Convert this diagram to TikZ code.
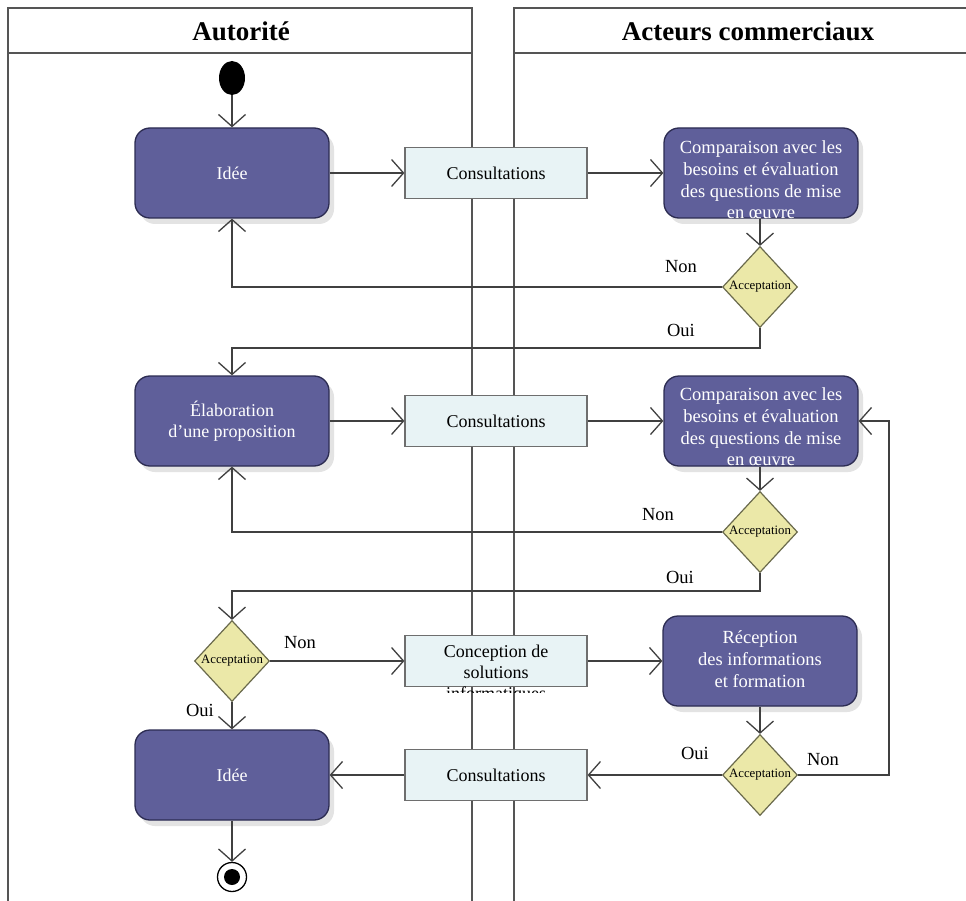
\documentclass[tikz,border=0pt]{standalone}
\usepackage{fontspec}
\setmainfont{Liberation Serif}
\usetikzlibrary{arrows.meta,shapes.geometric,shadows}
\definecolor{actfill}{HTML}{5F5F9A}
\definecolor{actdraw}{HTML}{2C2C52}
\definecolor{consfill}{HTML}{E8F3F5}
\definecolor{consdraw}{HTML}{6E6E6E}
\definecolor{decfill}{HTML}{EBE8A8}
\definecolor{decdraw}{HTML}{6A6A4C}
\definecolor{lanecol}{HTML}{555555}
\definecolor{linecol}{HTML}{404040}
\begin{document}
\begin{tikzpicture}[x=1pt,y=-1pt,
  activity/.style={draw=actdraw,line width=1.3pt,fill=actfill,rounded corners=15pt,
    minimum width=194pt,minimum height=90pt,inner sep=0pt,text=white,align=center,
    font=\fontsize{18}{21.5}\selectfont,
    drop shadow={opacity=0.22,shadow xshift=5pt,shadow yshift=-6pt}},
  acttext/.style={text=white,align=center,inner sep=0pt,font=\fontsize{18.5}{21.7}\selectfont},
  cons/.style={draw=consdraw,line width=1.2pt,fill=consfill,minimum width=182pt,
    minimum height=51pt,inner sep=0pt,align=center,font=\fontsize{18}{21}\selectfont},
  decision/.style={diamond,draw=decdraw,line width=1.2pt,fill=decfill,minimum width=75pt,
    minimum height=81pt,inner sep=0pt,font=\fontsize{12.8}{13}\selectfont},
  lbl/.style={font=\fontsize{18.5}{20}\selectfont,inner sep=0pt},
  hdr/.style={font=\bfseries\fontsize{27}{30}\selectfont,inner sep=0pt},
  lane/.style={draw=lanecol,line width=1.6pt},
  conn/.style={draw=linecol,line width=1.3pt,-{Straight Barb[length=12pt,width=27pt]}},
  startnode/.style={ellipse,fill=black,minimum width=26pt,minimum height=34pt,inner sep=0pt},
  ]
\useasboundingbox[fill=white] (0,0) rectangle (966,901);
% swimlanes
\draw[lane] (8,901) -- (8,8) -- (472,8) -- (472,901);
\draw[lane] (8,53) -- (472,53);
\draw[lane] (514,901) -- (514,8) -- (966,8);
\draw[lane] (514,53) -- (966,53);
\node[hdr] (h1) at (241,31) {Autorité};
\node[hdr] (h2) at (748,31) {Acteurs commerciaux};
% nodes
\node[startnode] (start) at (232,78) {};
\node[activity] (idea1) at (232,173) {Idée};
\node[cons] (cons1) at (496,173) {Consultations};
\node[activity] (comp1) at (761,173) {};
\node[acttext] (comp1t) at (761,180) {Comparaison avec les\\besoins et évaluation\\des questions de mise\\en œuvre};
\node[decision] (dec1) at (760,287) {Acceptation};
\node[activity] (elab) at (232,421) {Élaboration\\d’une proposition};
\node[cons] (cons2) at (496,421) {Consultations};
\node[activity] (comp2) at (761,421) {};
\node[acttext] (comp2t) at (761,427) {Comparaison avec les\\besoins et évaluation\\des questions de mise\\en œuvre};
\node[decision] (dec2) at (760,532) {Acceptation};
\node[decision] (dec3) at (232,661) {Acceptation};
\node[cons] (concept) at (496,661) {};
\begin{scope}
  \clip (405,600) rectangle (588,692);
  \node[align=center,font=\fontsize{18}{21}\selectfont,inner sep=0pt] (concepttext) at (496,674) {Conception de\\solutions\\informatiques};
\end{scope}
\node[activity] (recep) at (760,661) {};
\node[acttext] (recept) at (760,659) {Réception\\des informations\\et formation};
\node[decision] (dec4) at (760,775) {Acceptation};
\node[cons] (cons3) at (496,775) {Consultations};
\node[activity] (idea2) at (232,775) {Idée};
\node[circle,draw=black,line width=1.3pt,fill=white,minimum size=29pt,inner sep=0pt] (endo) at (232,877) {};
\node[circle,fill=black,minimum size=16pt,inner sep=0pt] (endi) at (232,877) {};
% junctions
\coordinate (j1) at (760,348);
\coordinate (j2) at (760,591);
\coordinate (j3) at (889,775);
% connectors
\draw[conn] (start) -- (idea1);
\draw[conn] (idea1) -- (cons1);
\draw[conn] (cons1) -- (comp1);
\draw[conn] (comp1.south -| dec1.north) -- (dec1.north);
\draw[conn] (dec1.west) -| (idea1.south);
\draw[conn] (dec1.south) -- (j1) -| (elab.north);
\draw[conn] (elab) -- (cons2);
\draw[conn] (cons2) -- (comp2);
\draw[conn] (comp2.south -| dec2.north) -- (dec2.north);
\draw[conn] (dec2.west) -| (elab.south);
\draw[conn] (dec2.south) -- (j2) -| (dec3.north);
\draw[conn] (dec3.east) -- (concept.west);
\draw[conn] (concept) -- (recep);
\draw[conn] (recep) -- (dec4);
\draw[conn] (dec4.west) -- (cons3.east);
\draw[conn] (cons3) -- (idea2);
\draw[conn] (dec3.south) -- (idea2.north);
\draw[conn] (idea2) -- (endo);
\draw[conn] (dec4.east) -- (j3) |- (comp2.east);
% labels
\node[lbl] (n1) at (681,267) {Non};
\node[lbl] (o1) at (681,330) {Oui};
\node[lbl] (n2) at (658,515) {Non};
\node[lbl] (o2) at (680,577) {Oui};
\node[lbl] (n3) at (300,643) {Non};
\node[lbl] (o3) at (200,710) {Oui};
\node[lbl] (o4) at (695,753) {Oui};
\node[lbl] (n4) at (823,760) {Non};
\end{tikzpicture}
\end{document}
